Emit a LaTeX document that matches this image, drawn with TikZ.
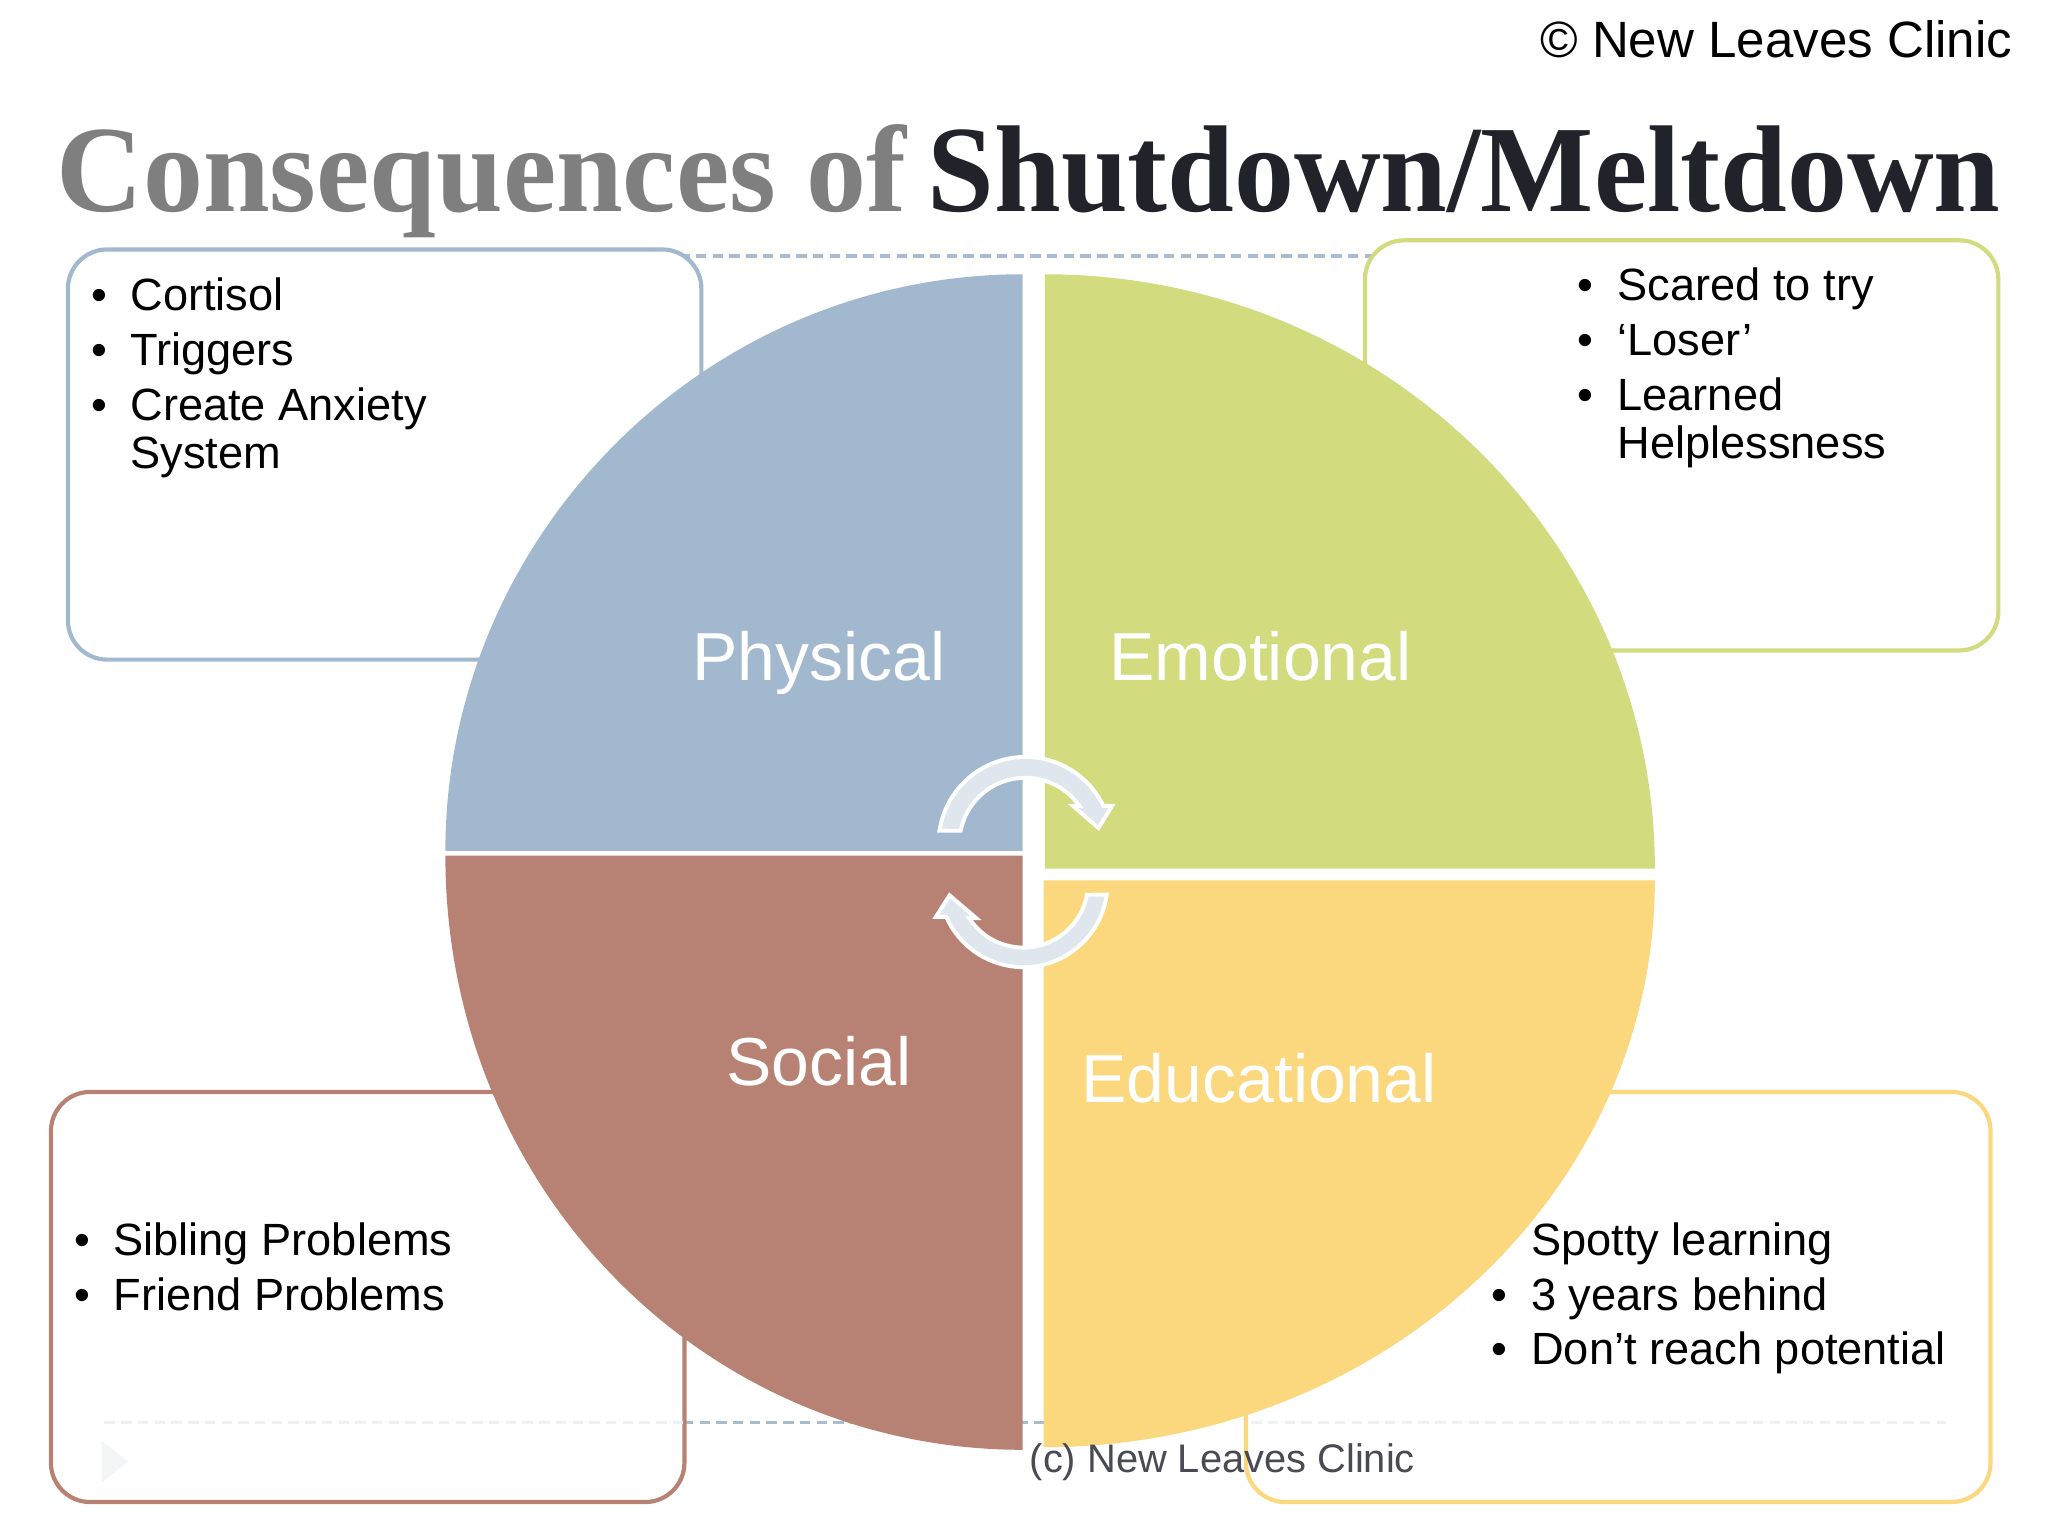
\documentclass[tikz,border=0pt]{standalone}
\usepackage{fontspec}
\setmainfont{Liberation Sans}
\newfontfamily\titlefont{Liberation Serif}
\definecolor{cblue}{HTML}{A2B8CF}
\definecolor{cgreen}{HTML}{D2DB7D}
\definecolor{cyellow}{HTML}{FBD87D}
\definecolor{cbrown}{HTML}{B78273}
\definecolor{cband}{HTML}{DFE6EE}
\definecolor{cdash}{HTML}{A8BCCF}
\definecolor{cfaint}{HTML}{EEF1F4}
\definecolor{ctitle}{HTML}{7F7F7F}
\definecolor{cdark}{HTML}{22232A}
\definecolor{cfoot}{HTML}{4A4A55}
\tikzset{
  panel/.style={line width=1.6pt,rounded corners=15pt,fill=white},
  item/.style={anchor=base west,inner sep=0pt,text=black,font=\fontsize{17.3}{20}\selectfont},
  bul/.style={anchor=base,inner sep=0pt,text=black,font=\fontsize{17.3}{20}\selectfont},
  seglabel/.style={anchor=base,inner sep=0pt,text=white,font=\fontsize{26}{30}\selectfont},
  titletext/.style={anchor=base west,inner sep=0pt,yscale=1.03,font=\titlefont\bfseries\fontsize{45.9}{50}\selectfont},
  band/.style={fill=cband,draw=white,line width=1.5pt,line join=miter},
  dashline/.style={line width=1.4pt,dash pattern=on 4pt off 2.4pt}
}
\begin{document}
\begin{tikzpicture}[x=0.5pt,y=-0.5pt]
\useasboundingbox[fill=white] (0,0) rectangle (1568,1176);
% dashed rules behind the panels
\draw[cdash,dashline] (520,196) -- (1060,196);
\draw[cdash,dashline] (510,1089) -- (800,1089);
% panels
\draw[panel,draw=cblue]   (52,191)  rectangle (537,505);
\draw[panel,draw=cgreen]  (1045,184) rectangle (1530,498);
\draw[panel,draw=cbrown]  (39,836)  rectangle (524,1150);
\draw[panel,draw=cyellow] (954,836) rectangle (1524,1150);
% faint rules and mark seen through the panels
\draw[cfaint,dashline] (80,1089) -- (523,1089);
\draw[cfaint,dashline] (958,1089) -- (1490,1089);
\fill[cfaint!70] (78,1103) -- (98,1119) -- (78,1135) -- cycle;
% quadrants
\fill[cblue] (341,651.5) .. controls (341,411) and (539,210) .. (783,210) -- (783,651.5) -- cycle;
\fill[cgreen] (800,210) .. controls (1058,210) and (1267,414) .. (1267,665) -- (800,665) -- cycle;
\fill[cyellow] (1267,674) .. controls (1267,914) and (1057,1108) .. (799,1108) -- (799,674) -- cycle;
\fill[cbrown] (783,1110) .. controls (539,1110) and (341,910) .. (341,655) -- (783,655) -- cycle;
% circular arrows
\draw[band] plot[domain=171.35:25.9,samples=40] ({785+66.5*cos(\x)},{646-66.5*sin(\x)})
  -- (851.5,617) -- (841,634) -- (821.5,617)
  -- plot[domain=35:168.6,samples=40] ({785+50.5*cos(\x)},{646-50.5*sin(\x)})
  -- cycle;
\draw[band] plot[domain=-8:-156.2,samples=40] ({783.5+64.5*cos(\x)},{676-64.5*sin(\x)})
  -- (716.5,702) -- (727,685.5) -- (747.5,703)
  -- plot[domain=-147:-10.5,samples=40] ({783.5+49.5*cos(\x)},{676-49.5*sin(\x)})
  -- cycle;
% title
\node[titletext,text=ctitle] (title1) at (43,162) {Consequences of};
\node[titletext,text=cdark] (title2) at (710,162) {Shutdown/Meltdown};
\node[anchor=base east,inner sep=0pt,text=black,font=\fontsize{19.55}{24}\selectfont] (copy) at (1541,44) {© New Leaves Clinic};
\node[anchor=base west,inner sep=0pt,text=cfoot,font=\fontsize{15.25}{18}\selectfont] (foot) at (788,1127) {(c) New Leaves Clinic};
% quadrant labels
\node[seglabel] (physical) at (627,521) {Physical};
\node[seglabel] (emotional) at (965,521) {Emotional};
\node[seglabel] (social) at (627,831) {Social};
\node[seglabel] (educational) at (964,844) {Educational};
% physical list
\node[bul] (b1) at (76,238) {•}; \node[item] (t1) at (99.5,238) {Cortisol};
\node[bul] (b2) at (76,280) {•}; \node[item] (t2) at (99.5,280) {Triggers};
\node[bul] (b3) at (76,322) {•}; \node[item] (t3) at (99.5,322) {Create Anxiety};
\node[item] (t4) at (99.5,358.5) {System};
% emotional list
\node[bul] (b5) at (1214,230) {•}; \node[item] (t5) at (1238,230) {Scared to try};
\node[bul] (b6) at (1214,272.5) {•}; \node[item] (t6) at (1238,272.5) {‘Loser’};
\node[bul] (b7) at (1214,314.5) {•}; \node[item] (t7) at (1238,314.5) {Learned};
\node[item] (t8) at (1238,351) {Helplessness};
% social list
\node[bul] (b9) at (63,961) {•}; \node[item] (t9) at (86.5,961) {Sibling Problems};
\node[bul] (b10) at (63,1003) {•}; \node[item] (t10) at (86.5,1003) {Friend Problems};
% educational list
\node[item] (t11) at (1172,961) {Spotty learning};
\node[bul] (b12) at (1148,1003) {•}; \node[item] (t12) at (1172,1003) {3 years behind};
\node[bul] (b13) at (1148,1045) {•}; \node[item] (t13) at (1172,1045) {Don’t reach potential};
\end{tikzpicture}
\end{document}
